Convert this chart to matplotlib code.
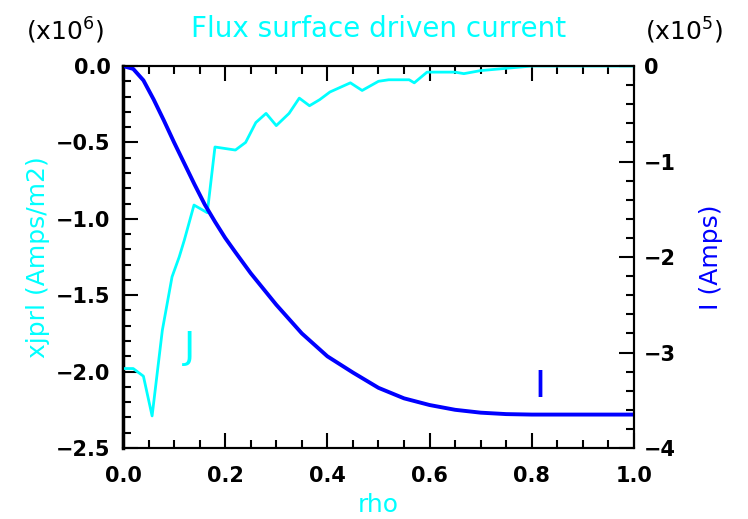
import matplotlib.pyplot as plt
from matplotlib.ticker import MultipleLocator

# flux surface driven current profile J (units of 1e6 Amps/m2)
rho_j = [0.0, 0.02, 0.04, 0.057, 0.077, 0.096, 0.11, 0.12, 0.139, 0.165, 0.18,
         0.22, 0.24, 0.26, 0.28, 0.30, 0.325, 0.345, 0.365, 0.385, 0.405, 0.445,
         0.468, 0.50, 0.52, 0.56, 0.57, 0.595, 0.65, 0.667, 0.70, 0.75, 0.80, 1.0]
xjprl = [-1.98, -1.98, -2.03, -2.29, -1.73, -1.38, -1.25, -1.14, -0.91, -0.96, -0.53,
         -0.55, -0.50, -0.37, -0.31, -0.39, -0.31, -0.21, -0.26, -0.22, -0.17, -0.11,
         -0.16, -0.10, -0.09, -0.09, -0.11, -0.04, -0.04, -0.05, -0.03, -0.015, 0.0, 0.0]

# integrated current I (units of 1e5 Amps)
rho_i = [0.0, 0.02, 0.04, 0.06, 0.08, 0.10, 0.12, 0.14, 0.16, 0.18, 0.20, 0.22,
         0.25, 0.30, 0.35, 0.40, 0.45, 0.50, 0.55, 0.60, 0.65, 0.70, 0.75, 0.80, 1.0]
cur_i = [0.0, -0.03, -0.15, -0.35, -0.57, -0.80, -1.02, -1.24, -1.45, -1.63, -1.80, -1.95,
         -2.17, -2.50, -2.80, -3.04, -3.21, -3.37, -3.48, -3.55, -3.60, -3.63, -3.645,
         -3.65, -3.65]

plt.rcParams['font.family'] = ['DejaVu Sans']
fs_tick = 15
fs_lab = 18

fig = plt.figure(figsize=(7.48, 5.19), dpi=100)
ax = fig.add_axes([0.1644, 0.1368, 0.6832, 0.736])
ax2 = ax.twinx()

ax.plot(rho_j, xjprl, color='cyan', lw=2, zorder=3)
ax2.plot(rho_i, cur_i, color='blue', lw=2.8)

ax.set_xlim(0, 1)
ax.set_ylim(-2.5, 0)
ax2.set_ylim(-4, 0)

ax.xaxis.set_major_locator(MultipleLocator(0.2))
ax.xaxis.set_minor_locator(MultipleLocator(0.05))
ax.yaxis.set_major_locator(MultipleLocator(0.5))
ax.yaxis.set_minor_locator(MultipleLocator(0.1))
ax2.yaxis.set_major_locator(MultipleLocator(1))
ax2.yaxis.set_minor_locator(MultipleLocator(0.2))

ax.tick_params(axis='x', which='both', direction='in', top=True, labelsize=fs_tick, pad=13)
ax.tick_params(axis='y', which='both', direction='in', right=False, labelsize=fs_tick, pad=9)
ax2.tick_params(axis='y', which='both', direction='in', labelsize=fs_tick, pad=7)
for a in (ax, ax2):
    a.tick_params(which='major', length=11, width=1.5)
    a.tick_params(which='minor', length=6, width=1.5)
    for lbl in a.get_xticklabels() + a.get_yticklabels():
        lbl.set_fontweight('bold')
    for s in a.spines.values():
        s.set_linewidth(1.5)
ax.spines['left'].set_linewidth(2.5)

ax.set_xlabel('rho', color='cyan', fontsize=fs_lab, labelpad=5)
ax.set_ylabel('xjprl (Amps/m2)', color='cyan', fontsize=fs_lab, labelpad=4)
ax2.set_ylabel('I (Amps)', color='blue', fontsize=fs_lab, labelpad=17)
ax.set_title('Flux surface driven current', color='cyan', fontsize=20, pad=21)

ax.text(0.13, -1.91, 'J', color='cyan', fontsize=27, ha='center', va='baseline')
ax2.text(0.816, -3.47, 'I', color='blue', fontsize=27, ha='center', va='baseline')

fig.text(0.087, 0.94, '(x10$^6$)', fontsize=fs_lab, ha='center', va='center')
fig.text(0.915, 0.94, '(x10$^5$)', fontsize=fs_lab, ha='center', va='center')

fig.savefig('out.png', dpi=100)
